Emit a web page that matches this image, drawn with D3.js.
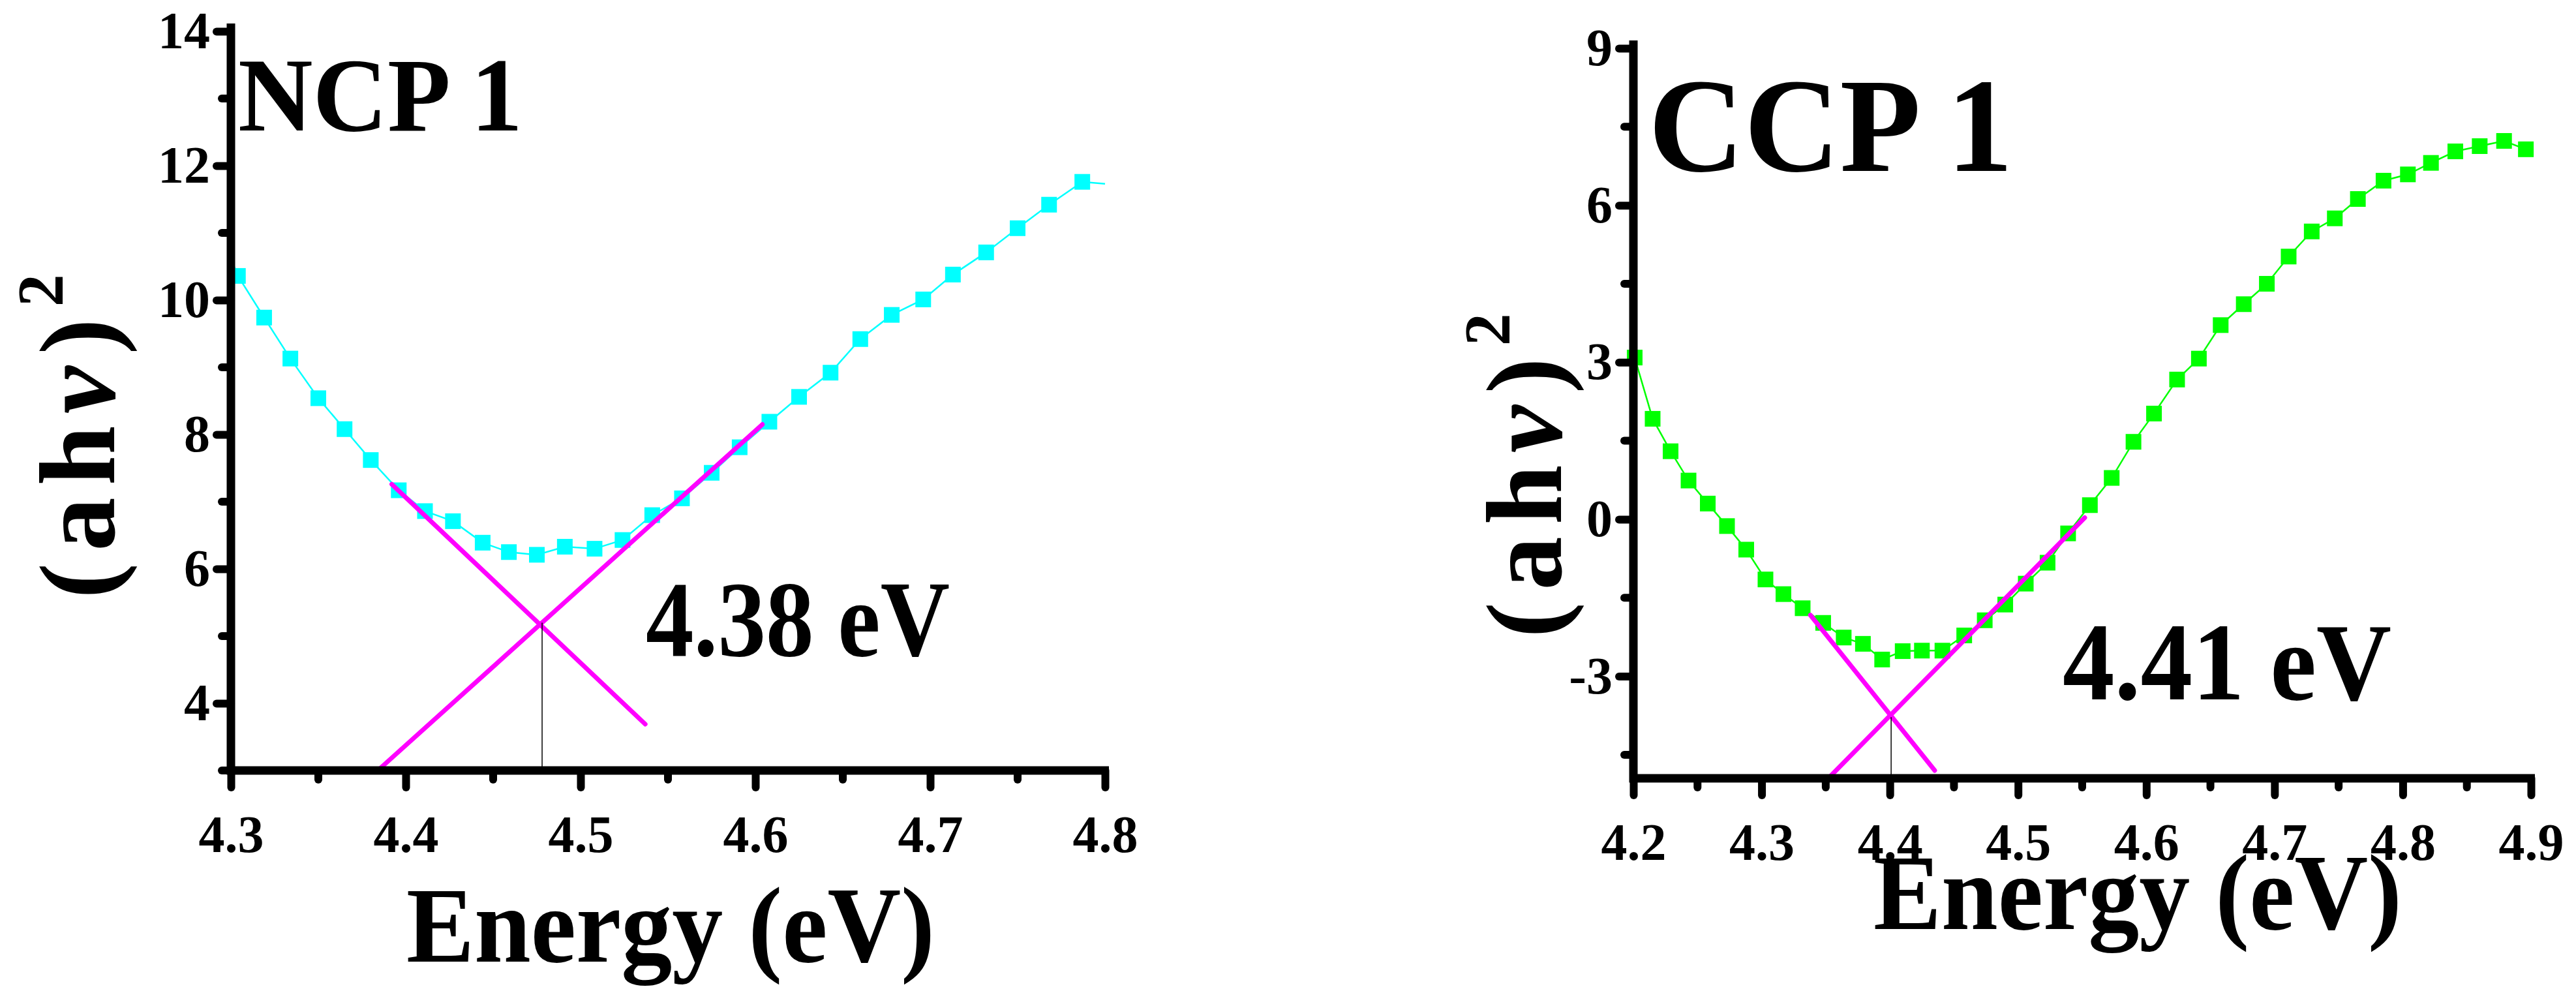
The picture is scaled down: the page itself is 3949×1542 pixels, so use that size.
<!DOCTYPE html>
<html>
<head>
<meta charset="utf-8">
<script src="https://cdn.jsdelivr.net/npm/d3@7"></script>
<style>
  body { margin: 0; background: #fff; }
  text { font-family: "Liberation Serif", "Times New Roman", serif; font-weight: bold; }
</style>
</head>
<body>
<svg id="chart" width="3949" height="1542"></svg>
<script>
// NCP 1 data
var ncpEnergy = [4.304, 4.319, 4.334, 4.350, 4.365, 4.380, 4.396, 4.411, 4.427, 4.444, 4.459, 4.475, 4.491, 4.508, 4.524,
  4.541, 4.558, 4.575, 4.591, 4.608, 4.625, 4.643, 4.660, 4.678, 4.696, 4.713, 4.732, 4.750, 4.768, 4.787];
var ncpValue = [10.36, 9.74, 9.13, 8.54, 8.08, 7.62, 7.17, 6.86, 6.71, 6.39, 6.25, 6.21, 6.33, 6.30, 6.43,
  6.80, 7.05, 7.43, 7.81, 8.19, 8.56, 8.92, 9.42, 9.78, 10.01, 10.38, 10.71, 11.07, 11.42, 11.76];
var ncpLineEnds = [[4.300, 10.62], [4.800, 11.73]];
var ncpFits = [[[4.392, 7.26], [4.537, 3.69]], [[4.384, 3.0], [4.604, 8.15]]];
var ncpCross = [4.478, 5.2];
var ncpXTicks = [4.3, 4.4, 4.5, 4.6, 4.7, 4.8];
var ncpYTicks = [4, 6, 8, 10, 12, 14];
var ncpYMinor = [3, 5, 7, 9, 11, 13];

// CCP 1 data
var ccpEnergy = [4.201, 4.215, 4.229, 4.243, 4.258, 4.273, 4.288, 4.303, 4.317, 4.332, 4.348, 4.364, 4.379, 4.394,
  4.410, 4.425, 4.441, 4.458, 4.474, 4.490, 4.506, 4.523, 4.539, 4.556, 4.573, 4.590, 4.606, 4.624, 4.641,
  4.658, 4.676, 4.694, 4.711, 4.729, 4.747, 4.765, 4.785, 4.804, 4.822, 4.841, 4.860, 4.879, 4.896];
var ccpValue = [3.09, 1.92, 1.30, 0.74, 0.30, -0.13, -0.58, -1.15, -1.43, -1.70, -1.98, -2.26, -2.38, -2.68,
  -2.52, -2.51, -2.51, -2.22, -1.93, -1.63, -1.23, -0.83, -0.27, 0.27, 0.79, 1.48, 2.02, 2.67, 3.07,
  3.71, 4.11, 4.50, 5.02, 5.50, 5.75, 6.12, 6.47, 6.59, 6.81, 7.03, 7.13, 7.23, 7.07];
var ccpLineEnds = [[4.200, 3.2], [4.900, 7.02]];
var ccpFits = [[[4.338, -1.83], [4.435, -4.80]], [[4.352, -4.95], [4.552, 0.03]]];
var ccpCross = [4.401, -3.78];
var ccpXTicks = [4.2, 4.3, 4.4, 4.5, 4.6, 4.7, 4.8, 4.9];
var ccpYTicks = [-3, 0, 3, 6, 9];
var ccpYMinor = [-4.5, -1.5, 1.5, 4.5, 7.5];

var svg = d3.select('#chart');

function panel(o) {
  var x = d3.scaleLinear().domain(o.xDomain).range([o.left, o.right]);
  var y = d3.scaleLinear().domain(o.yDomain).range([o.bottom, o.top]);
  var g = svg.append('g');

  // connecting line through the points
  var pts = [o.lineEnds[0]].concat(o.energy.map(function (e, i) { return [e, o.value[i]]; }), [o.lineEnds[1]]);
  g.append('path')
    .attr('d', d3.line().x(function (d) { return x(d[0]); }).y(function (d) { return y(d[1]); })(pts))
    .attr('fill', 'none').attr('stroke', o.color).attr('stroke-width', 2.5);

  g.selectAll('rect.pt').data(o.energy).enter().append('rect')
    .attr('x', function (d) { return x(d) - 12; })
    .attr('y', function (d, i) { return y(o.value[i]) - 12; })
    .attr('width', 24).attr('height', 24).attr('fill', o.color);

  // fit lines
  o.fits.forEach(function (f) {
    g.append('line')
      .attr('x1', x(f[0][0])).attr('y1', y(f[0][1]))
      .attr('x2', x(f[1][0])).attr('y2', y(f[1][1]))
      .attr('stroke', '#ff00ff').attr('stroke-width', 7).attr('stroke-linecap', 'round');
  });
  g.append('line')
    .attr('x1', x(o.cross[0])).attr('x2', x(o.cross[0]))
    .attr('y1', y(o.cross[1])).attr('y2', o.bottom)
    .attr('stroke', '#000').attr('stroke-width', 1.5);

  // axes
  var xAxis = d3.axisBottom(x).tickValues(o.xTicks).tickFormat(d3.format('.1f')).tickSize(26).tickPadding(42);
  var xa = g.append('g').attr('transform', 'translate(0,' + o.bottom + ')').call(xAxis);
  var minorX = d3.range(o.xDomain[0] + 0.05, o.xDomain[1], 0.1);
  xa.selectAll('line.minor').data(minorX).enter().append('line')
    .attr('x1', function (d) { return x(d); }).attr('x2', function (d) { return x(d); })
    .attr('y1', 0).attr('y2', 14);

  var yAxis = d3.axisLeft(y).tickValues(o.yTicks).tickFormat(function (d) { return String(d); })
    .tickSize(22).tickPadding(10);
  var ya = g.append('g').attr('transform', 'translate(' + o.left + ',0)').call(yAxis);
  ya.selectAll('line.minor').data(o.yMinor).enter().append('line')
    .attr('x1', -14).attr('x2', 0)
    .attr('y1', function (d) { return y(d); }).attr('y2', function (d) { return y(d); });

  [xa, ya].forEach(function (a) {
    a.select('.domain').remove();
    a.selectAll('line').attr('stroke', '#000').attr('stroke-width', 12).attr('stroke-linecap', 'round');
    a.selectAll('text').attr('font-size', 80).attr('fill', '#000')
      .attr('font-family', '"Liberation Serif", serif').attr('font-weight', 'bold');
  });
  g.append('path')
    .attr('d', 'M' + o.left + ',' + (o.top - 12) + 'V' + o.bottom + 'H' + (o.right + 6))
    .attr('fill', 'none').attr('stroke', '#000').attr('stroke-width', 13);

  // labels
  g.append('text').attr('x', o.nameX).attr('y', o.nameY).attr('font-size', o.nameSize)
    .attr('textLength', o.nameW).attr('lengthAdjust', 'spacingAndGlyphs').text(o.name);
  g.append('text').attr('x', o.gapX).attr('y', o.gapY).attr('font-size', o.gapSize)
    .attr('textLength', o.gapW).attr('lengthAdjust', 'spacingAndGlyphs').text(o.gap);
  g.append('text').attr('x', o.xTitleX - 405).attr('y', o.xTitleY)
    .attr('font-size', 165).attr('textLength', 810).attr('lengthAdjust', 'spacingAndGlyphs').text('Energy (eV)');
  var yt = g.append('text')
    .attr('transform', 'translate(' + o.yTitleX + ',' + o.yTitleY + ') rotate(-90)')
    .attr('text-anchor', 'middle').attr('font-size', 165).attr('letter-spacing', 18);
  yt.append('tspan').text('(ah');
  yt.append('tspan').attr('font-style', 'italic').text('ν');
  yt.append('tspan').text(')');
  yt.append('tspan').attr('dy', -80).attr('font-size', 100).text('2');
}

panel({
  xDomain: [4.3, 4.8], yDomain: [3, 14], left: 354, right: 1694, top: 48, bottom: 1181,
  energy: ncpEnergy, value: ncpValue, lineEnds: ncpLineEnds, fits: ncpFits, cross: ncpCross,
  xTicks: ncpXTicks, yTicks: ncpYTicks, yMinor: ncpYMinor, color: '#00ffff',
  name: 'NCP 1', nameX: 365, nameY: 200, nameSize: 160, nameW: 436,
  gap: '4.38 eV', gapX: 990, gapY: 1005, gapSize: 165, gapW: 466,
  xTitleX: 1028, xTitleY: 1474, yTitleX: 175, yTitleY: 660
});

panel({
  xDomain: [4.2, 4.9], yDomain: [-4.95, 9], left: 2504, right: 3880, top: 74, bottom: 1193,
  energy: ccpEnergy, value: ccpValue, lineEnds: ccpLineEnds, fits: ccpFits, cross: ccpCross,
  xTicks: ccpXTicks, yTicks: ccpYTicks, yMinor: ccpYMinor, color: '#00ff00',
  name: 'CCP 1', nameX: 2527, nameY: 262, nameSize: 205, nameW: 559,
  gap: '4.41 eV', gapX: 3162, gapY: 1072, gapSize: 170, gapW: 504,
  xTitleX: 3277, xTitleY: 1424, yTitleX: 2393, yTitleY: 720
});
</script>
</body>
</html>
